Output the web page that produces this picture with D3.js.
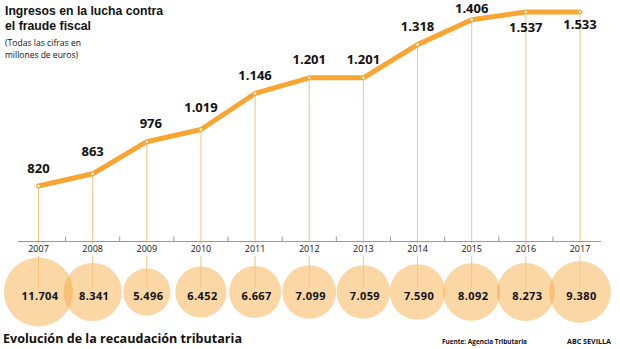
<!DOCTYPE html>
<html>
<head>
<meta charset="utf-8">
<script src="https://cdn.jsdelivr.net/npm/d3@7"></script>
<style>
  html, body { margin: 0; padding: 0; background: #fff; }
  svg { display: block; }
  text { font-family: "Open Sans", sans-serif; fill: #111; }
</style>
</head>
<body>
<script>
// ---- data ----
const years = ["2007","2008","2009","2010","2011","2012","2013","2014","2015","2016","2017"];
const fraude = [820, 863, 976, 1019, 1146, 1201, 1201, 1318, 1406, 1537, 1533];
const fraudeLabels = ["820","863","976","1.019","1.146","1.201","1.201","1.318","1.406","1.537","1.533"];
const recaudacion = [11704, 8341, 5496, 6452, 6667, 7099, 7059, 7590, 8092, 8273, 9380];
const recaudacionLabels = ["11.704","8.341","5.496","6.452","6.667","7.099","7.059","7.590","8.092","8.273","9.380"];

const W = 620, H = 349;
const svg = d3.select("body").append("svg").attr("width", W).attr("height", H);

const x = d3.scalePoint().domain(years).range([38.5, 580]);
const y = d3.scaleLinear().domain([820, 1433]).range([186, 12]).clamp(true);
const r = d3.scaleSqrt().domain([0, d3.max(recaudacion)]).range([0, 34.5]);

const axisY = 241.5, circleY = 292;
const data = years.map((yr, i) => ({ yr, i, v: fraude[i], lab: fraudeLabels[i], rv: recaudacion[i], rlab: recaudacionLabels[i] }));

// bubbles
svg.append("g").selectAll("circle").data(data).join("circle")
  .attr("cx", d => x(d.yr)).attr("cy", circleY).attr("r", d => r(d.rv))
  .attr("fill", "#f7a73a").attr("fill-opacity", 0.45);

// vertical guide lines
const guides = svg.append("g").attr("stroke", "#f8c27f").attr("stroke-width", 1);
guides.selectAll("line.a").data(data).join("line").attr("class", "a")
  .attr("x1", d => x(d.yr)).attr("x2", d => x(d.yr))
  .attr("y1", d => y(d.v)).attr("y2", axisY + 2);
guides.selectAll("line.b").data(data).join("line").attr("class", "b")
  .attr("x1", d => x(d.yr)).attr("x2", d => x(d.yr))
  .attr("y1", 256).attr("y2", circleY - 4);

// axis line and ticks between years
const step = x.step();
svg.append("line").attr("x1", 18).attr("x2", 601).attr("y1", axisY).attr("y2", axisY)
  .attr("stroke", "#999").attr("stroke-width", 1);
svg.append("g").selectAll("line").data(years.slice(0, -1)).join("line")
  .attr("x1", d => x(d) + step / 2).attr("x2", d => x(d) + step / 2)
  .attr("y1", axisY - 5).attr("y2", axisY)
  .attr("stroke", "#999").attr("stroke-width", 1);

// year labels
svg.append("g").selectAll("text").data(data).join("text")
  .attr("x", d => x(d.yr)).attr("y", 251.5)
  .attr("text-anchor", "middle").attr("font-size", 9).text(d => d.yr);

// line
const line = d3.line().x(d => x(d.yr)).y(d => y(d.v));
svg.append("path").datum(data).attr("d", line)
  .attr("fill", "none").attr("stroke", "#f8a532").attr("stroke-width", 5)
  .attr("stroke-linejoin", "round").attr("stroke-linecap", "round");
svg.append("g").selectAll("circle").data(data).join("circle")
  .attr("cx", d => x(d.yr)).attr("cy", d => y(d.v)).attr("r", 1.3).attr("fill", "#fff");

// value labels on the line
svg.append("g").selectAll("text").data(data).join("text")
  .attr("x", d => x(d.yr) + (d.yr === "2009" ? 4 : 0))
  .attr("y", d => {
    const py = y(d.v);
    if (+d.yr >= 2016) return py + (d.yr === "2016" ? 20 : 17);
    if (d.yr === "2015") return py - 6.5;
    if (d.yr === "2008" || d.yr === "2010") return py - 17.5;
    return py - 13.5;
  })
  .attr("text-anchor", "middle").attr("font-size", 13).attr("font-weight", 700)
  .text(d => d.lab);

// bubble labels
svg.append("g").selectAll("text").data(data).join("text")
  .attr("x", d => x(d.yr) + 1.5).attr("y", circleY + 8)
  .attr("text-anchor", "middle").attr("font-size", 11).attr("font-weight", 700)
  .attr("letter-spacing", 0.4)
  .text(d => d.rlab);

// titles & notes
function block(lines, tx, size, weight, family) {
  const t = svg.append("text").attr("font-size", size).attr("font-weight", weight);
  if (family) t.style("font-family", family);
  lines.forEach(([s, ty, len]) => {
    t.append("tspan").attr("x", tx).attr("y", ty)
      .attr("textLength", len).attr("lengthAdjust", "spacingAndGlyphs").text(s);
  });
}
block([["Ingresos en la lucha contra", 14.5, 158], ["el fraude fiscal", 29.5, 86]], 5, 13, 700, "'Liberation Sans', Arial, sans-serif");
block([["(Todas las cifras en", 46, 76], ["millones de euros)", 57.5, 73]], 5, 8.5, 400);
block([["Evolución de la recaudación tributaria", 343, 239]], 3, 13, 700);
block([["Fuente: Agencia Tributaria", 344, 85]], 442, 7, 700);
block([["ABC SEVILLA", 344, 44]], 567, 7, 700);
</script>
</body>
</html>
